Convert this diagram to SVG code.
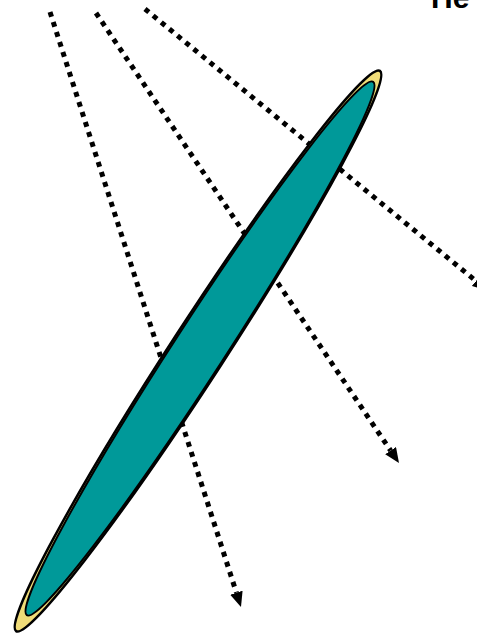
<svg xmlns="http://www.w3.org/2000/svg" width="477" height="633" viewBox="0 0 477 633">
  <style>
    .ray { fill: none; stroke: #000; stroke-width: 5; stroke-dasharray: 5 5.5; marker-end: url(#arrow); }
    .title { font-family: "Liberation Sans", Arial, sans-serif; font-weight: bold; font-size: 30px; fill: #000; }
  </style>
  <defs>
    <marker id="arrow" markerUnits="userSpaceOnUse" viewBox="0 0 15 13" refX="0" refY="6.5" markerWidth="15" markerHeight="13" orient="auto">
      <path d="M0,0 L15,6.5 L0,13 z" fill="#000"/>
    </marker>
  </defs>
  <rect width="477" height="633" fill="#fff"/>
  <g id="connectors">
    <line class="ray" x1="50" y1="12" x2="236.4" y2="592.7"/>
    <line class="ray" x1="96" y1="13" x2="390.6" y2="450.6"/>
    <line class="ray" x1="145" y1="9" x2="476" y2="281"/>
  </g>
  <g id="outer-lens">
    <ellipse cx="198" cy="351" rx="334" ry="27" transform="rotate(-57 198 351)" fill="#F0DC78" stroke="#000" stroke-width="2.5"/>
  </g>
  <g id="inner-lens">
    <ellipse cx="200" cy="348.5" rx="318" ry="25.5" transform="rotate(-57 200 348.5)" fill="#009999" stroke="#000" stroke-width="2"/>
  </g>
  <g id="title">
    <text class="title" x="431" y="8">He</text>
  </g>
</svg>
